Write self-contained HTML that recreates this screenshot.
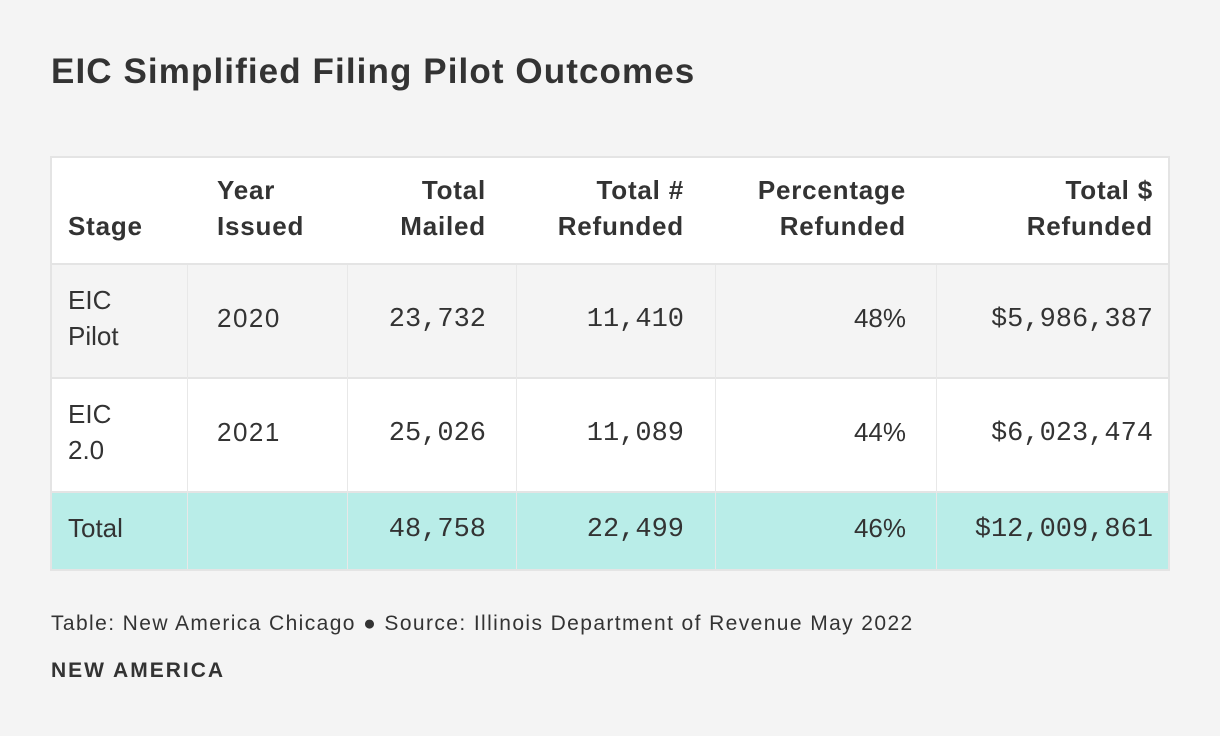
<!DOCTYPE html>
<html><head><meta charset="utf-8"><style>
body{margin:0;width:1220px;height:736px;background:#f4f4f4;font-family:"Liberation Sans",sans-serif;color:#333;position:relative;overflow:hidden}
.a{position:absolute}
.t{position:absolute;white-space:nowrap;line-height:36px}
.h{font-weight:bold;font-size:26px;color:#333;letter-spacing:0.8px}
.b{font-size:26px;color:#333}
.m{font-family:"Liberation Mono",monospace;font-size:27px;color:#333}
.r{text-align:right}
.vl{position:absolute;width:1px;background:#e8e8e8}
</style></head><body>
<div class="t" style="left:51px;top:51px;font-size:35px;font-weight:bold;line-height:42px;letter-spacing:1.1px">EIC Simplified Filing Pilot Outcomes</div>
<div class="a" style="left:50px;top:156px;width:1116px;height:411px;border:2px solid #e4e4e4;background:#fff">
  <div class="a" style="left:0;top:0;width:1116px;height:105px;background:#fff;border-bottom:2px solid #e4e4e4"></div>
  <div class="a" style="left:0;top:107px;width:1116px;height:112px;background:#f4f4f4;border-bottom:2px solid #e4e4e4"></div>
  <div class="a" style="left:0;top:221px;width:1116px;height:112px;background:#fff;border-bottom:2px solid #e4e4e4"></div>
  <div class="a" style="left:0;top:335px;width:1116px;height:76px;background:#b9ede8"></div>
  <div class="vl" style="left:135px;top:107px;height:304px"></div>
  <div class="vl" style="left:295px;top:107px;height:304px"></div>
  <div class="vl" style="left:464px;top:107px;height:304px"></div>
  <div class="vl" style="left:663px;top:107px;height:304px"></div>
  <div class="vl" style="left:884px;top:107px;height:304px"></div>
</div>
<!-- header -->
<div class="t h" style="left:68px;top:208px">Stage</div>
<div class="t h" style="left:217px;top:172px">Year<br>Issued</div>
<div class="t h r" style="right:734px;top:172px">Total<br>Mailed</div>
<div class="t h r" style="right:536px;top:172px">Total #<br>Refunded</div>
<div class="t h r" style="right:314px;top:172px">Percentage<br>Refunded</div>
<div class="t h r" style="right:67px;top:172px">Total $<br>Refunded</div>
<!-- row 1 -->
<div class="t b" style="left:68px;top:282px">EIC<br>Pilot</div>
<div class="t b" style="left:217px;top:300px;letter-spacing:1.5px">2020</div>
<div class="t m r" style="right:734px;top:302px">23,732</div>
<div class="t m r" style="right:536px;top:302px">11,410</div>
<div class="t b r" style="right:314px;top:300px">48%</div>
<div class="t m r" style="right:67px;top:302px">$5,986,387</div>
<!-- row 2 -->
<div class="t b" style="left:68px;top:396px">EIC<br>2.0</div>
<div class="t b" style="left:217px;top:414px;letter-spacing:1.5px">2021</div>
<div class="t m r" style="right:734px;top:416px">25,026</div>
<div class="t m r" style="right:536px;top:416px">11,089</div>
<div class="t b r" style="right:314px;top:414px">44%</div>
<div class="t m r" style="right:67px;top:416px">$6,023,474</div>
<!-- total -->
<div class="t b" style="left:68px;top:510px">Total</div>
<div class="t m r" style="right:734px;top:512px">48,758</div>
<div class="t m r" style="right:536px;top:512px">22,499</div>
<div class="t b r" style="right:314px;top:510px">46%</div>
<div class="t m r" style="right:67px;top:512px">$12,009,861</div>
<!-- footer -->
<div class="t" style="left:51px;top:611px;font-size:21px;line-height:26px;letter-spacing:1.4px">Table: New America Chicago ● Source: Illinois Department of Revenue May 2022</div>
<div class="t" style="left:51px;top:658px;font-size:21px;font-weight:bold;line-height:26px;letter-spacing:2px">NEW AMERICA</div>
</body></html>
